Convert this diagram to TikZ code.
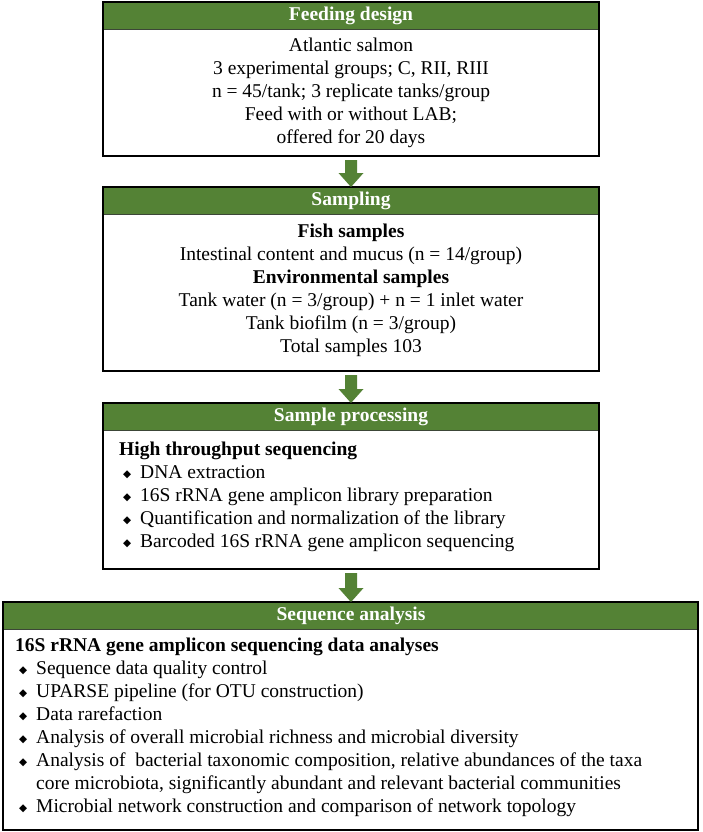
\documentclass[tikz,border=0pt]{standalone}
\usepackage{fontspec}
\setmainfont{Liberation Serif}
\newfontfamily\symfont{DejaVu Sans}
\usetikzlibrary{calc}
\definecolor{hgreen}{RGB}{84,130,53}
\definecolor{hedge}{RGB}{60,70,55}
\newcommand{\bitem}{\makebox[21pt][l]{\hspace{4pt}\raisebox{1.5pt}{\symfont\fontsize{10.5}{10.5}\selectfont ◆}}}
\newcommand{\garrow}[2]{%
  \fill[hgreen] ($(#1.south)+(-6,4)$) -- ($(#1.south)+(6,4)$) -- ($(#2.north)+(6,-14)$) -- ($(#2.north)+(12.5,-14)$) -- (#2.north) -- ($(#2.north)+(-12.5,-14)$) -- ($(#2.north)+(-6,-14)$) -- cycle;}
\begin{document}
\begin{tikzpicture}[x=1pt,y=-1pt,
  font=\fontsize{19.5}{23}\selectfont,
  outerbox/.style={draw=black, line width=1.5pt, inner sep=0pt, outer sep=0pt, fill=none},
  hdr/.style={fill=hgreen, draw=hedge, line width=0.8pt, text=white, font=\fontsize{19.5}{23}\selectfont\bfseries, minimum height=27pt, inner sep=0pt, outer sep=0pt},
  ctext/.style={align=center, inner sep=0pt},
  ltext/.style={align=left, anchor=west, inner sep=0pt}]
\useasboundingbox (0,0) rectangle (702,832);
\fill[white] (0,0) rectangle (702,832);

% Box 1
\node[hdr, minimum width=496pt] (h1) at (351,15.5) {Feeding design};
\node[outerbox, minimum width=496pt, minimum height=154pt] (b1) at (351,79) {};
\node[ctext] (t1) at (351,93) {Atlantic salmon\\3 experimental groups; C, RII, RIII\\n = 45/tank; 3 replicate tanks/group\\Feed with or without LAB;\\offered for 20 days};

% Box 2
\node[hdr, minimum width=496pt] (h2) at (351,200.5) {Sampling};
\node[outerbox, minimum width=496pt, minimum height=184pt] (b2) at (351,279) {};
\node[ctext] (t2) at (351,290.5) {\textbf{Fish samples}\\Intestinal content and mucus (n = 14/group)\\\textbf{Environmental samples}\\Tank water (n = 3/group) + n = 1 inlet water\\Tank biofilm (n = 3/group)\\Total samples 103};

% Box 3
\node[hdr, minimum width=496pt] (h3) at (351,416.5) {Sample processing};
\node[outerbox, minimum width=496pt, minimum height=166pt] (b3) at (351,486) {};
\node[ltext] (t3) at (119,497) {\textbf{High throughput sequencing}\\
\bitem DNA extraction\\
\bitem 16S rRNA gene amplicon library preparation\\
\bitem Quantification and normalization of the library\\
\bitem Barcoded 16S rRNA gene amplicon sequencing};

% Box 4
\node[hdr, minimum width=695pt] (h4) at (351,615.5) {Sequence analysis};
\node[outerbox, minimum width=695pt, minimum height=228pt] (b4) at (350.5,716) {};
\node[ltext] (t4) at (15,727.5) {\textbf{16S rRNA gene amplicon sequencing data analyses}\\
\bitem Sequence data quality control\\
\bitem UPARSE pipeline (for OTU construction)\\
\bitem Data rarefaction\\
\bitem Analysis of overall microbial richness and microbial diversity\\
\bitem Analysis of~ bacterial taxonomic composition, relative abundances of the taxa\\
\hspace*{21pt}core microbiota, significantly abundant and relevant bacterial communities\\
\bitem Microbial network construction and comparison of network topology};

% Arrows
\garrow{b1}{b2}
\garrow{b2}{b3}
\garrow{b3}{h4}
\end{tikzpicture}
\end{document}
